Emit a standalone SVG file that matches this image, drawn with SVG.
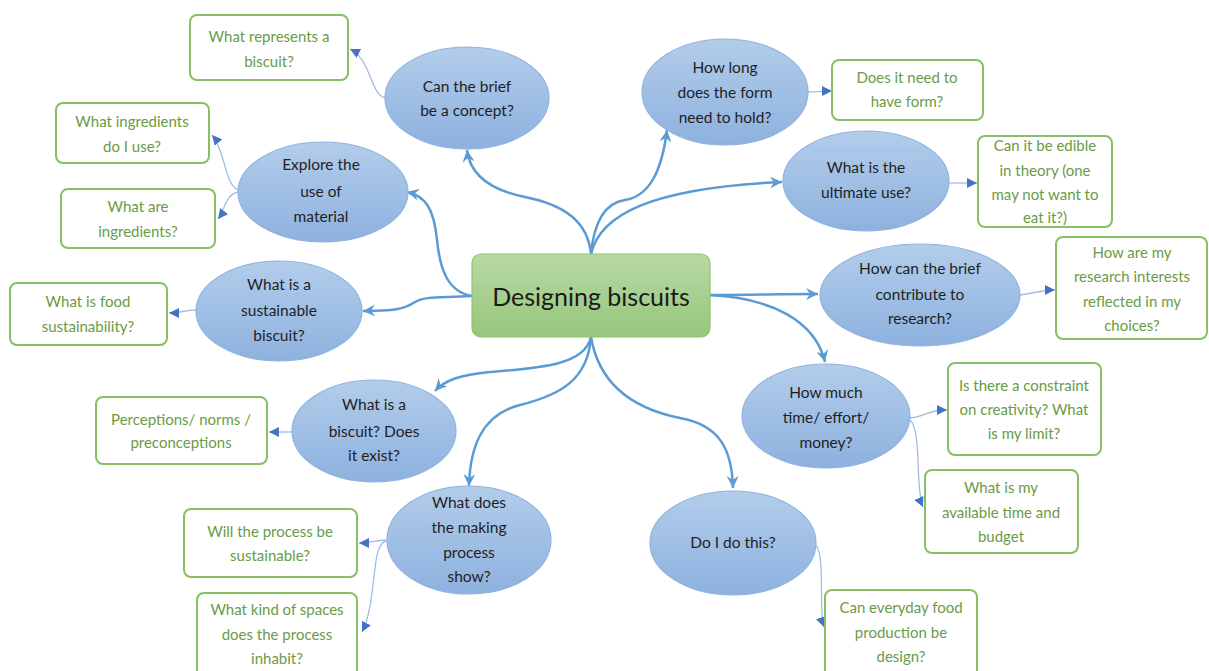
<svg xmlns="http://www.w3.org/2000/svg" width="1209" height="671" viewBox="0 0 1209 671">
<defs>
<linearGradient id="gBlue" x1="0" y1="0" x2="0" y2="1">
<stop offset="0" stop-color="#b3cdeb"/><stop offset="1" stop-color="#8db1de"/>
</linearGradient>
<linearGradient id="gGreen" x1="0" y1="0" x2="0" y2="1">
<stop offset="0" stop-color="#b8d9a4"/><stop offset="1" stop-color="#96c67b"/>
</linearGradient>
<marker id="mMain" markerUnits="userSpaceOnUse" markerWidth="14" markerHeight="12" refX="12" refY="6" orient="auto">
<path d="M0,0 L12,6 L0,12 L4,6 z" fill="#5b9bd5"/>
</marker>
<marker id="mSub" markerUnits="userSpaceOnUse" markerWidth="12" markerHeight="10" refX="10" refY="5" orient="auto">
<path d="M0,0 L10,5 L0,10 z" fill="#4472c4"/>
</marker>
<style>
.ell{fill:url(#gBlue);stroke:#8fb3df;stroke-width:1.2}
.box{fill:#ffffff;stroke:#86c064;stroke-width:2}
.et{font-family:Lato,'Liberation Sans',sans-serif;font-size:15.5px;fill:#1f1f1f;text-anchor:middle}
.bt{font-family:Lato,'Liberation Sans',sans-serif;font-size:15px;fill:#6a9b46;text-anchor:middle}
.main{fill:none;stroke:#5b9bd5;stroke-width:2.5;marker-end:url(#mMain)}
.sub{fill:none;stroke:#9dbde7;stroke-width:1.3;marker-end:url(#mSub)}
</style>
</defs>
<rect width="1209" height="671" fill="#ffffff"/>

<g id="connectors">
<path class="main" d="M591,254 C588,222 565,205 525,197 C490,190 470,175 467,150"/>
<path class="main" d="M591,254 C594,222 605,203 625,200 C650,196 662,170 667,130"/>
<path class="main" d="M591,254 C600,215 650,188 782,182"/>
<path class="main" d="M472,296 C448,292 440,270 437,240 C434,208 425,196 407,192"/>
<path class="main" d="M472,296 C440,298 425,296 415,302 C400,312 385,310 363,311"/>
<path class="main" d="M591,337 C585,365 540,368 490,372 C460,375 445,380 435,391"/>
<path class="main" d="M591,337 C588,380 560,395 520,405 C480,415 470,450 469,486"/>
<path class="main" d="M591,337 C600,390 640,410 680,418 C720,425 732,450 733,488"/>
<path class="main" d="M710,295 C750,295 780,294 818,294"/>
<path class="main" d="M710,295 C770,298 815,320 825,362"/>

<path class="sub" d="M386,98 C370,96 372,60 350,49"/>
<path class="sub" d="M238,190 C225,185 225,150 212,135"/>
<path class="sub" d="M238,192 C225,195 225,210 218,219"/>
<path class="sub" d="M196,310 C185,310 180,313 169,313"/>
<path class="sub" d="M292,432 C285,432 278,432 269,432"/>
<path class="sub" d="M387,540 C375,540 370,543 359,543"/>
<path class="sub" d="M386,541 C370,545 378,600 362,632"/>
<path class="sub" d="M808,92 C815,92 822,91 832,91"/>
<path class="sub" d="M949,183 C958,183 966,183 977,183"/>
<path class="sub" d="M1020,295 C1035,293 1042,290 1055,290"/>
<path class="sub" d="M908,418 C925,418 925,410 947,410"/>
<path class="sub" d="M910,420 C922,430 915,490 923,507"/>
<path class="sub" d="M816,545 C826,560 818,610 824,627"/>
</g>

<g id="center">
<rect x="472" y="254" width="238" height="83" rx="9" fill="url(#gGreen)" stroke="#8fc46f" stroke-width="1.2"/>
<text x="591" y="306" font-family="Lato,'Liberation Sans',sans-serif" font-size="25px" fill="#1a1a1a" text-anchor="middle">Designing biscuits</text>
</g>

<g id="n-concept">
<ellipse class="ell" cx="467" cy="98" rx="82" ry="51"/>
<text class="et" x="467"><tspan x="467" y="92">Can the brief</tspan><tspan x="467" y="116">be a concept?</tspan></text>
</g>
<g id="n-form">
<ellipse class="ell" cx="725" cy="92" rx="83" ry="53"/>
<text class="et"><tspan x="725" y="73">How long</tspan><tspan x="725" y="98">does the form</tspan><tspan x="725" y="123">need to hold?</tspan></text>
</g>
<g id="n-use">
<ellipse class="ell" cx="866" cy="181" rx="83" ry="50"/>
<text class="et"><tspan x="866" y="173">What is the</tspan><tspan x="866" y="198">ultimate use?</tspan></text>
</g>
<g id="n-research">
<ellipse class="ell" cx="920" cy="295" rx="100" ry="51"/>
<text class="et"><tspan x="920" y="274">How can the brief</tspan><tspan x="920" y="300">contribute to</tspan><tspan x="920" y="324">research?</tspan></text>
</g>
<g id="n-time">
<ellipse class="ell" cx="826" cy="416" rx="84" ry="52"/>
<text class="et"><tspan x="826" y="398">How much</tspan><tspan x="826" y="423">time/ effort/</tspan><tspan x="826" y="448">money?</tspan></text>
</g>
<g id="n-do">
<ellipse class="ell" cx="733" cy="543" rx="83" ry="52"/>
<text class="et" x="733" y="548">Do I do this?</text>
</g>
<g id="n-process">
<ellipse class="ell" cx="469" cy="540" rx="82" ry="54"/>
<text class="et"><tspan x="469" y="508">What does</tspan><tspan x="469" y="533">the making</tspan><tspan x="469" y="558">process</tspan><tspan x="469" y="582">show?</tspan></text>
</g>
<g id="n-exist">
<ellipse class="ell" cx="374" cy="431" rx="82" ry="51"/>
<text class="et"><tspan x="374" y="410">What is a</tspan><tspan x="374" y="437">biscuit? Does</tspan><tspan x="374" y="461">it exist?</tspan></text>
</g>
<g id="n-sustainable">
<ellipse class="ell" cx="279" cy="311" rx="83" ry="50"/>
<text class="et"><tspan x="279" y="290">What is a</tspan><tspan x="279" y="316">sustainable</tspan><tspan x="279" y="341">biscuit?</tspan></text>
</g>
<g id="n-material">
<ellipse class="ell" cx="323" cy="192" rx="85" ry="50"/>
<text class="et"><tspan x="321" y="170">Explore the</tspan><tspan x="321" y="197">use of</tspan><tspan x="321" y="222">material</tspan></text>
</g>

<g id="b-represents">
<rect class="box" x="190" y="15" width="158" height="65" rx="7"/>
<text class="bt"><tspan x="269" y="42">What represents a</tspan><tspan x="269" y="67">biscuit?</tspan></text>
</g>
<g id="b-ingredients-use">
<rect class="box" x="56" y="103" width="153" height="60" rx="7"/>
<text class="bt"><tspan x="132" y="127">What ingredients</tspan><tspan x="132" y="152">do I use?</tspan></text>
</g>
<g id="b-ingredients">
<rect class="box" x="61" y="189" width="154" height="59" rx="7"/>
<text class="bt"><tspan x="138" y="212">What are</tspan><tspan x="138" y="237">ingredients?</tspan></text>
</g>
<g id="b-food">
<rect class="box" x="10" y="283" width="157" height="62" rx="7"/>
<text class="bt"><tspan x="88" y="307">What is food</tspan><tspan x="88" y="332">sustainability?</tspan></text>
</g>
<g id="b-perceptions">
<rect class="box" x="96" y="397" width="171" height="67" rx="7"/>
<text class="bt"><tspan x="181" y="425">Perceptions/ norms /</tspan><tspan x="181" y="448">preconceptions</tspan></text>
</g>
<g id="b-will">
<rect class="box" x="184" y="509" width="173" height="68" rx="7"/>
<text class="bt"><tspan x="270" y="537">Will the process be</tspan><tspan x="270" y="561">sustainable?</tspan></text>
</g>
<g id="b-spaces">
<rect class="box" x="197" y="593" width="160" height="85" rx="7"/>
<text class="bt"><tspan x="277" y="615">What kind of spaces</tspan><tspan x="277" y="640">does the process</tspan><tspan x="277" y="664">inhabit?</tspan></text>
</g>
<g id="b-form">
<rect class="box" x="832" y="60" width="151" height="60" rx="7"/>
<text class="bt"><tspan x="907" y="83">Does it need to</tspan><tspan x="907" y="107">have form?</tspan></text>
</g>
<g id="b-edible">
<rect class="box" x="978" y="136" width="134" height="91" rx="7"/>
<text class="bt"><tspan x="1045" y="151">Can it be edible</tspan><tspan x="1045" y="176">in theory (one</tspan><tspan x="1045" y="200">may not want to</tspan><tspan x="1045" y="223">eat it?)</tspan></text>
</g>
<g id="b-interests">
<rect class="box" x="1056" y="237" width="151" height="102" rx="7"/>
<text class="bt"><tspan x="1132" y="258">How are my</tspan><tspan x="1132" y="282">research interests</tspan><tspan x="1132" y="307">reflected in my</tspan><tspan x="1132" y="331">choices?</tspan></text>
</g>
<g id="b-constraint">
<rect class="box" x="948" y="363" width="153" height="92" rx="7"/>
<text class="bt"><tspan x="1024" y="391">Is there a constraint</tspan><tspan x="1024" y="415">on creativity? What</tspan><tspan x="1024" y="439">is my limit?</tspan></text>
</g>
<g id="b-budget">
<rect class="box" x="925" y="470" width="153" height="83" rx="7"/>
<text class="bt"><tspan x="1001" y="493">What is my</tspan><tspan x="1001" y="518">available time and</tspan><tspan x="1001" y="542">budget</tspan></text>
</g>
<g id="b-everyday">
<rect class="box" x="825" y="590" width="152" height="90" rx="7"/>
<text class="bt"><tspan x="901" y="613">Can everyday food</tspan><tspan x="901" y="638">production be</tspan><tspan x="901" y="662">design?</tspan></text>
</g>
</svg>
